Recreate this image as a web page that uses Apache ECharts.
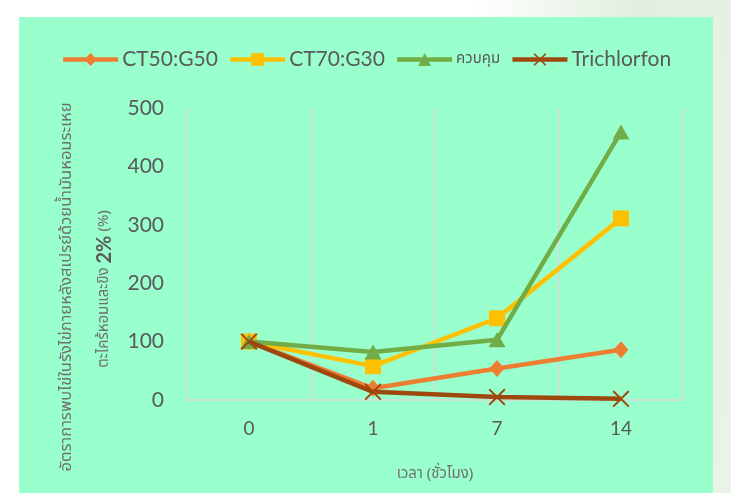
<!DOCTYPE html>
<html>
<head>
<meta charset="utf-8">
<script src="https://cdn.jsdelivr.net/npm/echarts@6/dist/echarts.min.js"></script>
<style>
  html, body { margin: 0; padding: 0; width: 731px; height: 493px; overflow: hidden; }
  body {
    background:
      linear-gradient(100deg, rgba(255,255,255,0) 58%, rgba(206,228,200,0.6) 78%, rgba(232,242,230,0.95) 100%),
      #ffffff;
    position: relative;
  }
  #chart { position: absolute; left: 19px; top: 17px; width: 694px; height: 476px; }
</style>
</head>
<body>
<div id="chart"></div>
<script>
// Time points (hours) and egg-finding rates (%) per treatment
const timeLabels = ['0', '1', '7', '14'];
const seriesNames = ['CT50:G50', 'CT70:G30', 'ควบคุม', 'Trichlorfon'];
const ct50g50 = [100, 20, 54, 86];
const ct70g30 = [100, 58, 140, 311];
const control = [100, 82, 103, 459];
const trichlorfon = [100, 14, 5, 2];
const yTicks = { min: 0, max: 500, interval: 100 };

const palette = ['#ED7D31', '#FFC000', '#70AD47', '#9E480E'];
const crossPath = 'path://M0,1.3 L1.3,0 L8,6.7 L14.7,0 L16,1.3 L9.3,8 L16,14.7 L14.7,16 L8,9.3 L1.3,16 L0,14.7 L6.7,8 Z';
const symbols = ['diamond', 'rect', 'triangle', crossPath];
const symbolSizes = [[15, 17], 16, [17, 15], 17];
const values = [ct50g50, ct70g30, control, trichlorfon];

const labelFont = 'Lato, "Open Sans", sans-serif';
const thaiFont = '"Noto Sans Thai", "Noto Sans", Tahoma, sans-serif';

const chart = echarts.init(document.getElementById('chart'), null, { renderer: 'canvas' });

chart.setOption({
  backgroundColor: '#99FFCC',
  animation: false,
  color: palette,
  legend: {
    top: 27,
    left: 'center',
    itemWidth: 55,
    itemHeight: 16,
    itemGap: 10,
    lineStyle: { width: 4.5 },
    textStyle: { fontFamily: labelFont, fontSize: 21, color: '#595959', padding: [0, 0, 0, -1] },
    data: seriesNames.map((n, i) => i === 2
      ? { name: n, textStyle: { fontFamily: thaiFont, fontSize: 15, color: '#595959' } }
      : n)
  },
  grid: { left: 168, right: 30, top: 91, bottom: 93 },
  xAxis: {
    type: 'category',
    data: timeLabels,
    boundaryGap: true,
    axisLine: { show: true, lineStyle: { color: '#D9D9D9', width: 1.5 } },
    axisTick: { show: false },
    splitLine: { show: true, lineStyle: { color: '#D9D9D9', width: 1.5 } },
    axisLabel: { fontFamily: labelFont, fontSize: 19, color: '#595959', margin: 19 },
    name: 'เวลา (ชั่วโมง)',
    nameLocation: 'middle',
    nameGap: 67,
    nameTextStyle: { fontFamily: thaiFont, fontSize: 15, color: '#6f6f6f' }
  },
  yAxis: {
    type: 'value',
    min: yTicks.min,
    max: yTicks.max,
    interval: yTicks.interval,
    axisLine: { show: false },
    axisTick: { show: false },
    splitLine: { show: false },
    axisLabel: { fontFamily: labelFont, fontSize: 21, color: '#595959', margin: 23 }
  },
  graphic: [
    {
      type: 'text',
      x: 49, y: 270,
      rotation: Math.PI / 2,
      style: {
        text: 'อัตราการพบไข่ในรังไข่ภายหลังสเปรย์ด้วยน้ำมันหอมระเหย',
        font: '16.5px ' + thaiFont, fill: '#6f6f6f',
        align: 'center', verticalAlign: 'middle'
      }
    },
    {
      type: 'text',
      x: 86, y: 272,
      rotation: Math.PI / 2,
      style: {
        text: '{t|ตะไคร้หอมและขิง }{b|2%}{t| (%)}',
        align: 'center', verticalAlign: 'middle',
        rich: {
          t: { fontFamily: thaiFont, fontSize: 15, fill: '#6f6f6f' },
          b: { fontFamily: labelFont, fontSize: 20, fontWeight: 'bold', fill: '#595959' }
        }
      }
    }
  ],
  series: values.map((v, i) => ({
    name: seriesNames[i],
    type: 'line',
    data: v,
    symbol: symbols[i],
    symbolSize: symbolSizes[i],
    showAllSymbol: true,
    lineStyle: { width: 4.5, color: palette[i] },
    itemStyle: { color: palette[i] },
    z: 2 + i
  }))
});
</script>
</body>
</html>
